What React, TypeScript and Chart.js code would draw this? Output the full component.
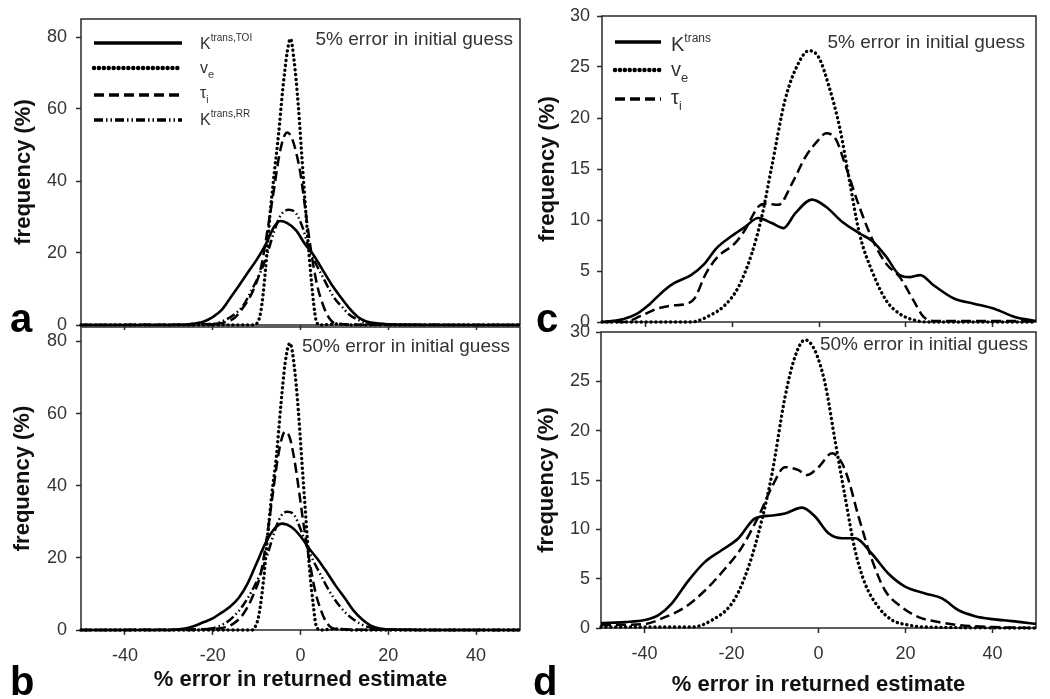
import React, { useEffect, useRef } from "react";
import { Chart, registerables } from "chart.js";

Chart.register(...registerables);

const W = 1050;
const H = 699;
const FONT = "'Liberation Sans', Arial, Helvetica, sans-serif";

// ---------- tick labels ----------
const xTickValues = [-40, -20, 0, 20, 40];
const yTicksAB = [0, 20, 40, 60, 80];
const yTicksCD = [0, 5, 10, 15, 20, 25, 30];

// ---------- panel a (5% error in initial guess) ----------
const aKtoiX = [-50, -30, -25, -22, -20, -18, -16, -14, -12, -10, -8, -6, -4.6, -3, -1, 1, 3, 5, 7, 9, 11, 13, 15, 18, 22, 30, 50];
const aKtoiY = [0, 0, 0.3, 1, 2.2, 4.1, 7.5, 11, 14.6, 18.1, 22.2, 27.3, 28.9, 28.3, 26.3, 22.5, 19.4, 15.4, 11.4, 8, 4.8, 2.3, 1, 0.4, 0.1, 0, 0];
const aVeX = [-50, -11, -10, -9, -8, -7, -6, -5, -4, -3, -2.3, -1.5, -0.5, 0.3, 1, 2, 3, 3.5, 4.5, 8, 12, 50];
const aVeY = [0, 0, 0.4, 4, 15, 30, 42, 53, 66, 76, 79.5, 74, 61, 47, 35, 19, 6, 1.5, 0, 0.3, 0, 0];
const aTauX = [-50, -20, -17, -15, -13, -11, -9, -7.3, -6, -5, -4, -3, -2, -1, 0, 1, 2, 3, 4, 5, 6, 7, 8, 10, 14, 50];
const aTauY = [0, 0.3, 0.8, 2, 5, 9, 16, 28, 38, 46, 51.5, 53.5, 52, 48, 42, 33, 24, 16, 10, 6, 3, 1.2, 0.4, 0.2, 0.1, 0];
const aKrrX = [-50, -22, -19, -17, -15, -13, -11, -9, -7.5, -6, -4.5, -2.7, -1, 0.5, 2, 3.5, 5, 6.5, 8, 9.5, 11, 13, 15, 18, 50];
const aKrrY = [0, 0, 0.5, 1.5, 3, 5.5, 10, 15, 20, 26, 30.5, 32, 31, 27, 21, 17, 13.5, 10, 7, 5, 3, 1.5, 0.5, 0.2, 0];

// ---------- panel b (50% error in initial guess) ----------
const bKtoiX = [-50, -30, -26, -24, -22, -20, -18, -16, -14, -12, -10, -8, -6, -4.2, -2, 0, 2, 4, 6, 8, 10, 12, 14, 16, 18, 22, 30, 50];
const bKtoiY = [0, 0, 0.5, 1.2, 2.2, 3.2, 4.8, 6.5, 9, 13, 18.5, 24, 28, 29.5, 28.5, 26, 22.5, 19.5, 16, 12.3, 9, 5.5, 3, 1.2, 0.4, 0.1, 0, 0];
const bVeX = [-50, -11, -10.5, -9.5, -8.5, -7.5, -6.5, -5.5, -4.5, -3.5, -2.4, -1.5, -0.5, 0.3, 1, 2, 3, 3.5, 4.5, 8, 12, 50];
const bVeY = [0, 0, 0.5, 4, 13, 26, 38, 48, 62, 74, 79.5, 74, 61, 47, 35, 18, 6, 1.5, 0, 0.3, 0, 0];
const bTauX = [-50, -20, -17, -15, -13, -11, -9, -7.5, -6.5, -5.5, -4.5, -3.5, -2.5, -1.5, -0.5, 0.5, 1.5, 2.5, 3.5, 4.5, 5.5, 6.5, 7.5, 10, 14, 50];
const bTauY = [0, 0.3, 0.8, 2, 4.5, 9, 16, 27, 36, 45, 52, 55, 53.5, 48, 40, 31, 23, 16, 10, 6, 3, 1.2, 0.4, 0.2, 0.1, 0];
const bKrrX = [-50, -24, -20, -17, -15, -13, -11, -9, -7.5, -6, -4.5, -3.1, -1.5, 0, 1.5, 3, 4.5, 6, 7.5, 9, 10.5, 12, 14, 16, 20, 50];
const bKrrY = [0, 0, 0.5, 2, 4, 7, 11, 16, 21, 27, 31.5, 32.8, 32, 28, 23, 19, 15.5, 12, 9, 6.5, 4.5, 3, 1.5, 0.6, 0.1, 0];

// ---------- panel c (5% error in initial guess) ----------
const cKX = [-50, -45, -42, -38.9, -35.7, -33.4, -29.5, -26.4, -23.7, -20.2, -17.1, -14, -10.9, -8.2, -5.4, -1.6, 1.6, 5.4, 9.3, 12.4, 15.5, 18.6, 21, 23.3, 26.4, 31.1, 35.7, 40.4, 45.1, 50];
const cKY = [0, 0.3, 0.8, 1.8, 3.1, 3.8, 4.6, 5.7, 7.2, 8.4, 9.3, 10.2, 9.7, 9.2, 10.7, 12.0, 11.3, 9.8, 8.7, 7.9, 6.4, 4.6, 4.4, 4.6, 3.6, 2.3, 1.8, 1.3, 0.5, 0.1];
const cVeX = [-50, -29.5, -24.9, -21.8, -18.6, -15.5, -13.2, -10.9, -7.8, -4.7, -2.3, 0, 2.3, 4.7, 7, 9.3, 12.4, 15.5, 18.6, 21.8, 24.9, 50];
const cVeY = [0, 0, 0.7, 1.6, 3.4, 6.7, 10.3, 15.2, 21.8, 25.4, 26.6, 25.9, 23.1, 19.2, 13.9, 8.7, 4.8, 2.1, 0.8, 0.2, 0, 0];
const cTauX = [-50, -45, -41, -37.3, -34.2, -30.3, -28.7, -26, -23.3, -19.4, -17.1, -14, -12.4, -9.3, -6.2, -3.1, 0, 1.6, 3.9, 6.2, 9.3, 12.4, 15.5, 18.6, 21.8, 24.1, 27, 50];
const cTauY = [0, 0, 0.6, 1.3, 1.6, 1.8, 2.3, 4.8, 6.4, 7.7, 9.0, 11.3, 11.6, 11.5, 13.6, 16.2, 17.9, 18.5, 17.9, 15.2, 11.3, 8.0, 5.7, 4.4, 2.1, 0.5, 0.1, 0.1];

// ---------- panel d (50% error in initial guess) ----------
const dKX = [-50, -44.5, -39.9, -36.8, -33.7, -29.9, -26.1, -22.2, -18.4, -14.6, -10.7, -7.7, -3.8, -0.8, 2.3, 5.4, 8.4, 12.3, 16.1, 19.9, 24.5, 28.4, 32.2, 36, 39.9, 44.5, 50];
const dKY = [0.5, 0.6, 0.8, 1.3, 2.5, 4.8, 6.7, 7.9, 9.1, 11.1, 11.4, 11.6, 12.2, 11.3, 9.6, 9.1, 9.1, 7.5, 5.5, 4.2, 3.5, 3.0, 1.8, 1.2, 0.9, 0.7, 0.4];
const dVeX = [-50, -29, -24.5, -19.9, -16.9, -13.8, -10.7, -7.7, -5.4, -3.1, -0.8, 1.5, 3.8, 6.1, 8.4, 10.7, 13.8, 16.9, 20.7, 24.5, 50];
const dVeY = [0.1, 0.1, 0.8, 2.5, 5.2, 9.6, 15.6, 23.4, 27.5, 29.2, 28.1, 24.8, 19.0, 13.3, 7.9, 4.5, 2.1, 0.8, 0.3, 0.1, 0];
const dTauX = [-50, -40, -35.3, -30.7, -26.1, -21.5, -17.6, -13.8, -10.7, -7.7, -4.6, -2.7, 0, 3.1, 5.4, 6.9, 9.2, 12.3, 15.3, 19.2, 23, 27.6, 32.2, 40, 50];
const dTauY = [0.3, 0.4, 1.1, 2.1, 3.8, 6.0, 8.2, 11.3, 14.3, 16.3, 16.0, 15.5, 16.3, 17.7, 16.7, 15.0, 11.3, 6.9, 3.8, 2.1, 1.1, 0.6, 0.3, 0.1, 0];

type LineStyle = "solid" | "dotted" | "dashed" | "dashdot";

const STYLES: Record<LineStyle, { borderWidth: number; borderDash: number[]; borderCapStyle: CanvasLineCap }> = {
  solid: { borderWidth: 2.6, borderDash: [], borderCapStyle: "butt" },
  dotted: { borderWidth: 3.4, borderDash: [0.1, 4.8], borderCapStyle: "round" },
  dashed: { borderWidth: 2.5, borderDash: [10, 5], borderCapStyle: "butt" },
  dashdot: { borderWidth: 2.5, borderDash: [9, 3, 1.5, 3, 1.5, 3], borderCapStyle: "butt" },
};

interface Series { xs: number[]; ys: number[]; style: LineStyle; label: string }
interface PanelSpec {
  plot: { l: number; t: number; r: number; b: number };
  yAxisW: number;
  xAxisH: number;
  yMax: number;
  yTicks: number[];
  xLabels: boolean;
  yTickPad: number;
  yTitlePad: number;
  xTitlePad: number;
  series: Series[];
  legend: { x0: number; x1: number; ys: number[] } | null;
}

const PANELS: PanelSpec[] = [
  {
    plot: { l: 81, t: 19, r: 520, b: 325 }, yAxisW: 81, xAxisH: 10, yMax: 85, yTicks: yTicksAB,
    xLabels: false, yTickPad: 9, yTitlePad: 11, xTitlePad: 0,
    series: [
      { xs: aKtoiX, ys: aKtoiY, style: "solid", label: "Ktrans,TOI" },
      { xs: aVeX, ys: aVeY, style: "dotted", label: "ve" },
      { xs: aTauX, ys: aTauY, style: "dashed", label: "τi" },
      { xs: aKrrX, ys: aKrrY, style: "dashdot", label: "Ktrans,RR" },
    ],
    legend: { x0: 94, x1: 182, ys: [43, 68, 95, 120] },
  },
  {
    plot: { l: 81, t: 327, r: 520, b: 630 }, yAxisW: 81, xAxisH: 69, yMax: 84, yTicks: yTicksAB,
    xLabels: true, yTickPad: 9, yTitlePad: 10, xTitlePad: 6,
    series: [
      { xs: bKtoiX, ys: bKtoiY, style: "solid", label: "Ktrans,TOI" },
      { xs: bVeX, ys: bVeY, style: "dotted", label: "ve" },
      { xs: bTauX, ys: bTauY, style: "dashed", label: "τi" },
      { xs: bKrrX, ys: bKrrY, style: "dashdot", label: "Ktrans,RR" },
    ],
    legend: null,
  },
  {
    plot: { l: 602, t: 16, r: 1036, b: 322 }, yAxisW: 77, xAxisH: 10, yMax: 30, yTicks: yTicksCD,
    xLabels: false, yTickPad: 7, yTitlePad: 10, xTitlePad: 0,
    series: [
      { xs: cKX, ys: cKY, style: "solid", label: "Ktrans" },
      { xs: cVeX, ys: cVeY, style: "dotted", label: "ve" },
      { xs: cTauX, ys: cTauY, style: "dashed", label: "τi" },
    ],
    legend: { x0: 615, x1: 661, ys: [42, 70, 99] },
  },
  {
    plot: { l: 601, t: 332, r: 1036, b: 628 }, yAxisW: 76, xAxisH: 71, yMax: 30, yTicks: yTicksCD,
    xLabels: true, yTickPad: 6, yTitlePad: 9, xTitlePad: 1,
    series: [
      { xs: dKX, ys: dKY, style: "solid", label: "Ktrans" },
      { xs: dVeX, ys: dVeY, style: "dotted", label: "ve" },
      { xs: dTauX, ys: dTauY, style: "dashed", label: "τi" },
    ],
    legend: null,
  },
];

function makeConfig(p: PanelSpec): any {
  const framePlugin = {
    id: "frame",
    beforeDatasetsDraw(chart: any) {
      const { ctx, chartArea: a } = chart;
      ctx.save();
      ctx.strokeStyle = "#2a2a2a";
      ctx.lineWidth = 1.5;
      ctx.strokeRect(a.left, a.top, a.right - a.left, a.bottom - a.top);
      ctx.restore();
    },
    afterDraw(chart: any) {
      if (!p.legend) return;
      const { ctx } = chart;
      const lg = p.legend;
      ctx.save();
      p.series.forEach((s, i) => {
        const st = STYLES[s.style];
        ctx.beginPath();
        ctx.strokeStyle = "#000";
        ctx.lineWidth = st.borderWidth + 1;
        ctx.lineCap = st.borderCapStyle;
        ctx.setLineDash(st.borderDash);
        ctx.moveTo(lg.x0, lg.ys[i]);
        ctx.lineTo(lg.x1, lg.ys[i]);
        ctx.stroke();
      });
      ctx.restore();
    },
  };

  const zeroPad = (s: any) => {
    s.paddingLeft = 0;
    s.paddingRight = 0;
    s.paddingTop = 0;
    s.paddingBottom = 0;
  };

  return {
    type: "line",
    data: {
      datasets: p.series.map((s) => ({
        label: s.label,
        data: s.xs.map((x, i) => ({ x, y: s.ys[i] })),
        borderColor: "#000",
        backgroundColor: "#000",
        pointRadius: 0,
        fill: false,
        cubicInterpolationMode: "monotone",
        clip: false,
        ...STYLES[s.style],
      })),
    },
    options: {
      animation: false,
      responsive: false,
      events: [],
      layout: {
        padding: {
          left: p.plot.l - p.yAxisW,
          top: p.plot.t,
          right: W - p.plot.r,
          bottom: H - p.plot.b - p.xAxisH,
        },
      },
      plugins: { legend: { display: false }, tooltip: { enabled: false } },
      scales: {
        x: {
          type: "linear",
          min: -50,
          max: 50,
          afterBuildTicks: (s: any) => {
            s.ticks = xTickValues.map((v) => ({ value: v }));
          },
          afterFit: (s: any) => {
            s.height = p.xAxisH;
            zeroPad(s);
          },
          border: { display: false },
          grid: { drawOnChartArea: false, drawTicks: true, tickLength: 5, tickColor: "#2a2a2a", tickWidth: 1.5 },
          ticks: {
            display: p.xLabels,
            font: { family: FONT, size: 18 },
            color: "#333",
            padding: 10,
            maxRotation: 0,
            autoSkip: false,
          },
          title: {
            display: p.xLabels,
            text: "% error in returned estimate",
            font: { family: FONT, size: 22, weight: "bold" },
            color: "#111",
            padding: { top: 0, bottom: p.xTitlePad },
          },
        },
        y: {
          type: "linear",
          min: 0,
          max: p.yMax,
          afterBuildTicks: (s: any) => {
            s.ticks = p.yTicks.map((v) => ({ value: v }));
          },
          afterFit: (s: any) => {
            s.width = p.yAxisW;
            zeroPad(s);
          },
          border: { display: false },
          grid: { drawOnChartArea: false, drawTicks: true, tickLength: 5, tickColor: "#2a2a2a", tickWidth: 1.5 },
          ticks: {
            font: { family: FONT, size: 18 },
            color: "#333",
            padding: p.yTickPad,
            autoSkip: false,
          },
          title: {
            display: true,
            text: "frequency (%)",
            font: { family: FONT, size: 22, weight: "bold" },
            color: "#111",
            padding: { top: p.yTitlePad, bottom: 0 },
          },
        },
      },
    },
    plugins: [framePlugin],
  };
}

function PanelChart({ spec }: { spec: PanelSpec }) {
  const ref = useRef<HTMLCanvasElement>(null);
  useEffect(() => {
    const chart = new Chart(ref.current as HTMLCanvasElement, makeConfig(spec));
    return () => chart.destroy();
  }, [spec]);
  return (
    <canvas
      ref={ref}
      width={W}
      height={H}
      style={{ position: "absolute", left: 0, top: 0, width: W, height: H }}
    />
  );
}

function T(props: {
  x: number; base: number; size: number; bold?: boolean; align?: "left" | "right"; color?: string; children: React.ReactNode;
}) {
  const { x, base, size, bold, align, color, children } = props;
  const style: React.CSSProperties = {
    position: "absolute",
    top: base - 0.8465 * size,
    fontSize: size,
    lineHeight: 1,
    whiteSpace: "nowrap",
    fontWeight: bold ? "bold" : "normal",
    color: color || "#222",
    fontFamily: FONT,
  };
  if (align === "right") style.right = W - x;
  else style.left = x;
  return <div style={style}>{children}</div>;
}

const Sup = ({ size, dy, children }: { size: number; dy: number; children: React.ReactNode }) => (
  <span style={{ fontSize: size, position: "relative", top: -dy }}>{children}</span>
);
const Sub = ({ size, dy, children }: { size: number; dy: number; children: React.ReactNode }) => (
  <span style={{ fontSize: size, position: "relative", top: dy }}>{children}</span>
);

export default function App() {
  return (
    <div
      style={{
        position: "absolute",
        left: 0,
        top: 0,
        width: W,
        height: H,
        background: "#fff",
        overflow: "hidden",
        fontFamily: FONT,
      }}
    >
      {PANELS.map((p, i) => (
        <PanelChart key={i} spec={p} />
      ))}

      {/* panel letters */}
      <T x={10} base={332} size={40} bold color="#000">a</T>
      <T x={10} base={695} size={40} bold color="#000">b</T>
      <T x={536} base={332} size={40} bold color="#000">c</T>
      <T x={533} base={695} size={40} bold color="#000">d</T>

      {/* annotations */}
      <T x={513} base={45} size={19} align="right" color="#333">5% error in initial guess</T>
      <T x={510} base={352} size={19} align="right" color="#333">50% error in initial guess</T>
      <T x={1025} base={48} size={19} align="right" color="#333">5% error in initial guess</T>
      <T x={1028} base={350} size={19} align="right" color="#333">50% error in initial guess</T>

      {/* legend a */}
      <T x={200} base={50} size={16} color="#333">K<Sup size={10} dy={8}>trans,TOI</Sup></T>
      <T x={200} base={74} size={16} color="#333">v<Sub size={11} dy={5}>e</Sub></T>
      <T x={200} base={99} size={16} color="#333">τ<Sub size={10} dy={5}>i</Sub></T>
      <T x={200} base={126} size={16} color="#333">K<Sup size={10} dy={8}>trans,RR</Sup></T>

      {/* legend c */}
      <T x={671} base={51} size={20} color="#333">K<Sup size={12} dy={9}>trans</Sup></T>
      <T x={671} base={76} size={20} color="#333">v<Sub size={13} dy={6}>e</Sub></T>
      <T x={671} base={104} size={20} color="#333">τ<Sub size={12} dy={6}>i</Sub></T>
    </div>
  );
}
